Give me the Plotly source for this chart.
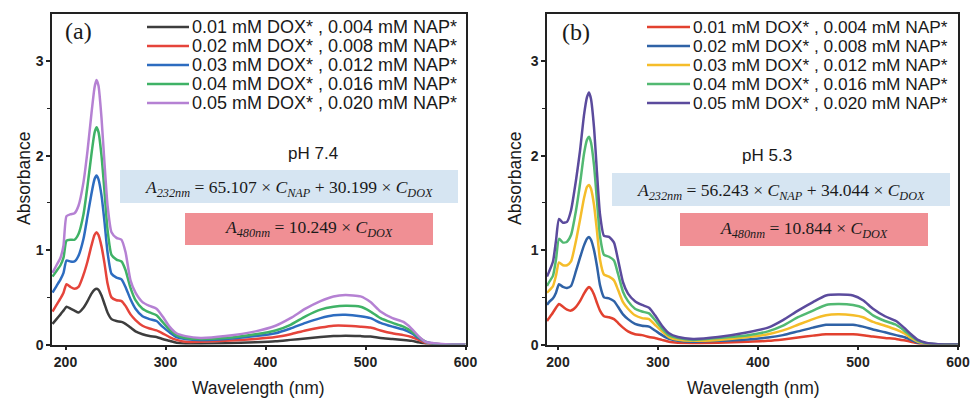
import plotly.graph_objects as go

# ---------------- data ----------------
WL_A = [187, 191, 195, 198, 201, 205, 209, 213, 218, 222, 226, 229, 231, 233, 236, 239, 242, 246, 251, 256,
        260, 265, 270, 277, 284, 291, 297, 304, 311, 320, 335, 360, 390, 410, 425, 440, 455, 468, 480, 495,
        505, 515, 527, 538, 546, 553, 560, 568, 580, 600]
WL_B = [189, 191, 195, 198, 201, 205, 209, 213, 218, 222, 226, 229, 231, 233, 236, 239, 242, 246, 251, 256,
        260, 265, 270, 277, 284, 291, 297, 304, 311, 320, 335, 360, 390, 410, 425, 440, 455, 468, 480, 495,
        505, 515, 527, 538, 546, 553, 560, 568, 580, 600]

LABELS = ["0.01 mM DOX* , 0.004 mM NAP*", "0.02 mM DOX* , 0.008 mM NAP*", "0.03 mM DOX* , 0.012 mM NAP*",
          "0.04 mM DOX* , 0.016 mM NAP*", "0.05 mM DOX* , 0.020 mM NAP*"]

# pH 7.4 (panel a)
A_001 = [0.22, 0.27, 0.32, 0.36, 0.40, 0.38, 0.36, 0.34, 0.39, 0.46, 0.54, 0.58, 0.59, 0.58, 0.52, 0.43, 0.34, 0.27, 0.25, 0.24,
         0.22, 0.18, 0.14, 0.11, 0.09, 0.08, 0.06, 0.04, 0.02, 0.01, 0.01, 0.015, 0.025, 0.035, 0.05, 0.065, 0.08, 0.09, 0.095, 0.09,
         0.085, 0.07, 0.06, 0.05, 0.04, 0.025, 0.01, 0.004, 0.001, 0.0]
A_002 = [0.35, 0.42, 0.49, 0.55, 0.64, 0.61, 0.59, 0.61, 0.74, 0.88, 1.05, 1.16, 1.19, 1.16, 1.04, 0.86, 0.65, 0.50, 0.47, 0.46,
         0.41, 0.32, 0.26, 0.20, 0.17, 0.15, 0.12, 0.08, 0.05, 0.03, 0.03, 0.04, 0.06, 0.08, 0.11, 0.15, 0.18, 0.20, 0.20, 0.19,
         0.18, 0.15, 0.12, 0.10, 0.08, 0.05, 0.02, 0.008, 0.002, 0.0]
A_003 = [0.55, 0.62, 0.69, 0.76, 0.89, 0.88, 0.88, 0.94, 1.12, 1.36, 1.60, 1.75, 1.79, 1.75, 1.58, 1.30, 0.98, 0.75, 0.71, 0.69,
         0.61, 0.48, 0.38, 0.30, 0.27, 0.25, 0.19, 0.13, 0.08, 0.06, 0.05, 0.06, 0.09, 0.12, 0.17, 0.23, 0.28, 0.31, 0.315, 0.30,
         0.28, 0.23, 0.19, 0.16, 0.12, 0.07, 0.03, 0.01, 0.003, 0.0]
A_004 = [0.72, 0.78, 0.84, 0.92, 1.10, 1.11, 1.11, 1.17, 1.38, 1.68, 2.02, 2.24, 2.30, 2.25, 2.00, 1.62, 1.22, 0.95, 0.90, 0.88,
         0.79, 0.60, 0.47, 0.38, 0.34, 0.31, 0.24, 0.16, 0.10, 0.07, 0.06, 0.07, 0.11, 0.15, 0.21, 0.30, 0.37, 0.40, 0.41, 0.40,
         0.35, 0.28, 0.23, 0.19, 0.14, 0.08, 0.03, 0.01, 0.004, 0.0]
A_005 = [0.76, 0.84, 0.92, 1.05, 1.36, 1.38, 1.39, 1.47, 1.72, 2.05, 2.45, 2.72, 2.80, 2.74, 2.40, 1.92, 1.48, 1.19, 1.13, 1.11,
         0.98, 0.68, 0.55, 0.45, 0.41, 0.38, 0.30, 0.19, 0.12, 0.09, 0.07, 0.09, 0.14, 0.20, 0.28, 0.38, 0.46, 0.51, 0.525, 0.51,
         0.45, 0.35, 0.28, 0.24, 0.17, 0.09, 0.03, 0.015, 0.005, 0.0]

# pH 5.3 (panel b)
B_001 = [0.25, 0.28, 0.34, 0.39, 0.43, 0.40, 0.37, 0.36, 0.40, 0.46, 0.54, 0.59, 0.61, 0.59, 0.53, 0.44, 0.36, 0.30, 0.29, 0.27,
         0.23, 0.18, 0.14, 0.11, 0.10, 0.08, 0.07, 0.05, 0.03, 0.02, 0.015, 0.02, 0.03, 0.04, 0.055, 0.075, 0.095, 0.11, 0.11, 0.11,
         0.10, 0.085, 0.07, 0.06, 0.045, 0.03, 0.012, 0.005, 0.001, 0.0]
B_002 = [0.42, 0.45, 0.49, 0.55, 0.64, 0.61, 0.60, 0.62, 0.78, 0.92, 1.05, 1.12, 1.14, 1.11, 1.00, 0.83, 0.63, 0.50, 0.49, 0.46,
         0.40, 0.32, 0.27, 0.22, 0.20, 0.19, 0.15, 0.10, 0.06, 0.04, 0.03, 0.04, 0.055, 0.075, 0.10, 0.14, 0.18, 0.21, 0.21, 0.21,
         0.19, 0.16, 0.13, 0.10, 0.08, 0.05, 0.02, 0.008, 0.002, 0.0]
B_003 = [0.55, 0.57, 0.62, 0.73, 0.87, 0.84, 0.84, 0.88, 1.10, 1.32, 1.55, 1.67, 1.69, 1.65, 1.48, 1.20, 0.90, 0.74, 0.72, 0.68,
         0.58, 0.45, 0.38, 0.31, 0.28, 0.27, 0.21, 0.14, 0.08, 0.05, 0.04, 0.05, 0.08, 0.11, 0.15, 0.21, 0.27, 0.31, 0.32, 0.31,
         0.29, 0.24, 0.20, 0.16, 0.12, 0.07, 0.03, 0.01, 0.003, 0.0]
B_004 = [0.62, 0.66, 0.73, 0.90, 1.12, 1.08, 1.09, 1.16, 1.42, 1.70, 2.02, 2.17, 2.20, 2.14, 1.90, 1.52, 1.15, 0.95, 0.93, 0.89,
         0.75, 0.56, 0.46, 0.38, 0.35, 0.33, 0.26, 0.17, 0.10, 0.07, 0.05, 0.07, 0.10, 0.14, 0.20, 0.29, 0.36, 0.42, 0.43, 0.42,
         0.39, 0.31, 0.25, 0.21, 0.15, 0.09, 0.04, 0.015, 0.004, 0.0]
B_005 = [0.72, 0.77, 0.88, 1.10, 1.33, 1.29, 1.30, 1.42, 1.74, 2.05, 2.43, 2.62, 2.67, 2.60, 2.30, 1.82, 1.38, 1.15, 1.14, 1.08,
         0.90, 0.66, 0.54, 0.46, 0.42, 0.39, 0.31, 0.20, 0.12, 0.08, 0.06, 0.08, 0.13, 0.18, 0.26, 0.36, 0.45, 0.52, 0.53, 0.52,
         0.47, 0.38, 0.30, 0.25, 0.18, 0.11, 0.05, 0.02, 0.005, 0.0]

SERIES_A = [A_001, A_002, A_003, A_004, A_005]
SERIES_B = [B_001, B_002, B_003, B_004, B_005]
COLORS_A = ["#3d3d3d", "#e5443b", "#2d6cc0", "#3fb266", "#b581d3"]
COLORS_B = ["#e2412f", "#2f62a6", "#f5bd2a", "#52b972", "#5b4b9d"]

X_TICKS = [200, 300, 400, 500, 600]
Y_TICKS = [0, 1, 2, 3]

# ---------------- figure ----------------
W, H = 973, 398


def px(x):
    return x / W


def py(y):
    return 1 - y / H


fig = go.Figure()
for vals, col, lab in zip(SERIES_A, COLORS_A, LABELS):
    fig.add_trace(go.Scatter(x=WL_A, y=vals, mode="lines", name=lab, showlegend=False,
                             line=dict(color=col, width=2.5, shape="spline", smoothing=0.55),
                             xaxis="x", yaxis="y"))
for vals, col, lab in zip(SERIES_B, COLORS_B, LABELS):
    fig.add_trace(go.Scatter(x=WL_B, y=vals, mode="lines", name=lab, showlegend=False,
                             line=dict(color=col, width=2.5, shape="spline", smoothing=0.55),
                             xaxis="x2", yaxis="y2"))

axis_font = dict(family="Liberation Sans, Arial", size=14, color="#222", weight="bold")
common_x = dict(showline=True, mirror=True, linecolor="#222", linewidth=1.5, ticks="outside",
                ticklen=4, tickwidth=1.5, tickcolor="#222", tickvals=X_TICKS, showgrid=False,
                zeroline=False, tickfont=axis_font, automargin=False)
common_y = dict(showline=True, mirror=True, linecolor="#222", linewidth=1.5, ticks="outside",
                ticklen=4, tickwidth=1.5, tickcolor="#222", tickvals=Y_TICKS, showgrid=False,
                zeroline=False, tickfont=axis_font, range=[0, 3.5], automargin=False,
                minor=dict(tickvals=[0.5, 1.5, 2.5], ticks="outside", ticklen=3, tickcolor="#222", tickwidth=1.2))

y_dom = [py(344.6), py(14)]
fig.update_layout(
    template="none",
    width=W, height=H, margin=dict(l=0, r=0, t=0, b=0, pad=0), autosize=False,
    paper_bgcolor="white", plot_bgcolor="white",
    xaxis=dict(domain=[px(52), px(465.5)], range=[186.5, 600], anchor="y", **common_x),
    yaxis=dict(domain=y_dom, anchor="x", **common_y),
    xaxis2=dict(domain=[px(547), px(958)], range=[189, 600], anchor="y2", **common_x),
    yaxis2=dict(domain=y_dom, anchor="x2", **common_y),
)

shapes = []
annotations = []
sans = "Liberation Sans, Arial"
serif = "Liberation Serif, Times New Roman"

ROWS_Y = [27, 46, 65, 84, 103]


def legend(x_line0, x_line1, x_text, colors, size):
    for yy, col, lab in zip(ROWS_Y, colors, LABELS):
        shapes.append(dict(type="line", xref="paper", yref="paper", x0=px(x_line0), x1=px(x_line1),
                           y0=py(yy), y1=py(yy), line=dict(color=col, width=2.4)))
        annotations.append(dict(xref="paper", yref="paper", x=px(x_text), y=py(yy), text=lab,
                                xanchor="left", yanchor="middle", showarrow=False,
                                font=dict(family=sans, size=size, color="#1a1a1a")))


legend(147, 189, 190, COLORS_A, 18)
legend(647, 690, 691, COLORS_B, 17.3)


def box(x0, x1, y0, y1, color):
    shapes.append(dict(type="rect", xref="paper", yref="paper", x0=px(x0), x1=px(x1), y0=py(y1), y1=py(y0),
                       fillcolor=color, line=dict(width=0), layer="below"))


box(120, 458, 170, 203, "rgb(214,229,242)")
box(185, 433, 213, 245, "rgb(240,143,148)")
box(612, 950, 173, 206, "rgb(214,229,242)")
box(680, 928, 213, 246, "rgb(240,143,148)")


def text(x, y, s, size, family, xanchor="center", angle=0, color="#1a1a1a"):
    annotations.append(dict(xref="paper", yref="paper", x=px(x), y=py(y), text=s, xanchor=xanchor,
                            yanchor="middle", showarrow=False, textangle=angle,
                            font=dict(family=family, size=size, color=color)))


EQ1_A = "<i>A</i><sub><i>232nm</i></sub> = 65.107 × <i>C</i><sub><i>NAP</i></sub> + 30.199 × <i>C</i><sub><i>DOX</i></sub>"
EQ2_A = "<i>A</i><sub><i>480nm</i></sub> = 10.249 × <i>C</i><sub><i>DOX</i></sub>"
EQ1_B = "<i>A</i><sub><i>232nm</i></sub> = 56.243 × <i>C</i><sub><i>NAP</i></sub> + 34.044 × <i>C</i><sub><i>DOX</i></sub>"
EQ2_B = "<i>A</i><sub><i>480nm</i></sub> = 10.844 × <i>C</i><sub><i>DOX</i></sub>"

text(289, 188, EQ1_A, 17.5, serif)
text(309, 228, EQ2_A, 17.5, serif)
text(781, 191, EQ1_B, 17.5, serif)
text(804, 229, EQ2_B, 17.5, serif)

text(313, 153, "pH 7.4", 17, sans)
text(767, 155, "pH 5.3", 17, sans)

text(63, 31, "(a)", 24, serif, xanchor="left")
text(560, 32, "(b)", 24, serif, xanchor="left")

text(24, 179, "Absorbance", 17.5, sans, angle=-90)
text(515, 179, "Absorbance", 17.5, sans, angle=-90)
text(258, 388, "Wavelength (nm)", 17.5, sans)
text(753, 388, "Wavelength (nm)", 17.5, sans)

fig.update_layout(shapes=shapes, annotations=annotations)
fig.write_html("out.html")
